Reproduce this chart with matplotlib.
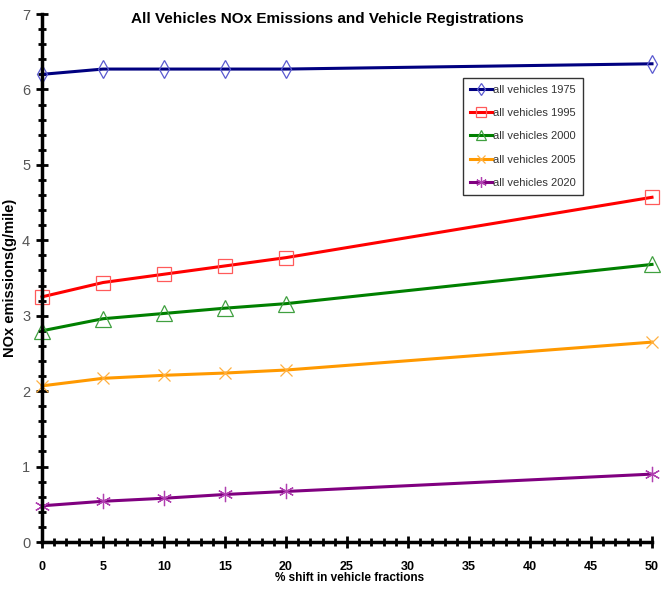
import matplotlib
matplotlib.use("Agg")
import matplotlib.pyplot as plt
from matplotlib.ticker import MultipleLocator

plt.rcParams["font.family"] = ["Liberation Sans", "DejaVu Sans"]

# % shift in vehicle fractions
shift = [0, 5, 10, 15, 20, 50]

# NOx emissions (g/mile) per fleet year
nox_1975 = [6.20, 6.27, 6.27, 6.27, 6.27, 6.34]
nox_1995 = [3.25, 3.44, 3.55, 3.66, 3.77, 4.57]
nox_2000 = [2.80, 2.96, 3.03, 3.10, 3.16, 3.68]
nox_2005 = [2.07, 2.17, 2.21, 2.24, 2.28, 2.65]
nox_2020 = [0.48, 0.54, 0.58, 0.63, 0.67, 0.90]

series = [
    ("all vehicles 1975", nox_1975, "#000080", "#5a5ad0", "d", 9),
    ("all vehicles 1995", nox_1995, "#ff0000", "#ff5a5a", "s", 9.5),
    ("all vehicles 2000", nox_2000, "#008000", "#40a040", "^", 11),
    ("all vehicles 2005", nox_2005, "#ff9900", "#ffb040", "x", 9),
    ("all vehicles 2020", nox_2020, "#800080", "#b040b0", (6, 2, 0), 11),
]

fig = plt.figure(figsize=(6.61, 5.89), dpi=100)
ax = fig.add_axes([42 / 661, 1 - 542 / 589, 610 / 661, 528 / 589])

for label, vals, color, mcolor, marker, ms in series:
    ax.plot(shift, vals, color=color, lw=2.2, marker=marker, ms=ms,
            mfc="none", mec=mcolor, mew=0.9, label=label, clip_on=False)

ax.set_xlim(0, 50)
ax.set_ylim(0, 7)
ax.xaxis.set_major_locator(MultipleLocator(5))
ax.xaxis.set_minor_locator(MultipleLocator(1))
ax.yaxis.set_major_locator(MultipleLocator(1))
ax.yaxis.set_minor_locator(MultipleLocator(0.2))

for s in ("top", "right"):
    ax.spines[s].set_visible(False)
for s in ("left", "bottom"):
    ax.spines[s].set_linewidth(2.5)

ax.tick_params(axis="both", which="major", direction="inout", length=9, width=2)
ax.tick_params(axis="both", which="minor", direction="inout", length=6, width=2)
ax.tick_params(axis="y", labelsize=10.5, labelcolor="#555555", pad=4)
ax.tick_params(axis="x", labelsize=9, pad=9)
for t in ax.get_xticklabels():
    t.set_fontweight("bold")

ax.set_xlabel("% shift in vehicle fractions", fontsize=8.5, fontweight="bold")
ax.xaxis.set_label_coords(0.505, -0.057)
ax.set_ylabel("NOx emissions(g/mile)", fontsize=10.5, fontweight="bold")
ax.yaxis.set_label_coords(-0.041, 0.50)
fig.text(0.496, 0.968, "All Vehicles NOx Emissions and Vehicle Registrations",
         ha="center", va="center", fontsize=11, fontweight="bold")

leg = ax.legend(loc="upper left", bbox_to_anchor=(0.690, 0.879),
                fontsize=8, frameon=True, fancybox=False, borderpad=0.6,
                labelspacing=1.2, handlelength=2.0, handletextpad=0.15,
                borderaxespad=0, markerscale=0.7)
leg.get_frame().set_edgecolor("black")
leg.get_frame().set_linewidth(1)
for t in leg.get_texts():
    t.set_color("#333333")

fig.savefig("out.png", dpi=100)
